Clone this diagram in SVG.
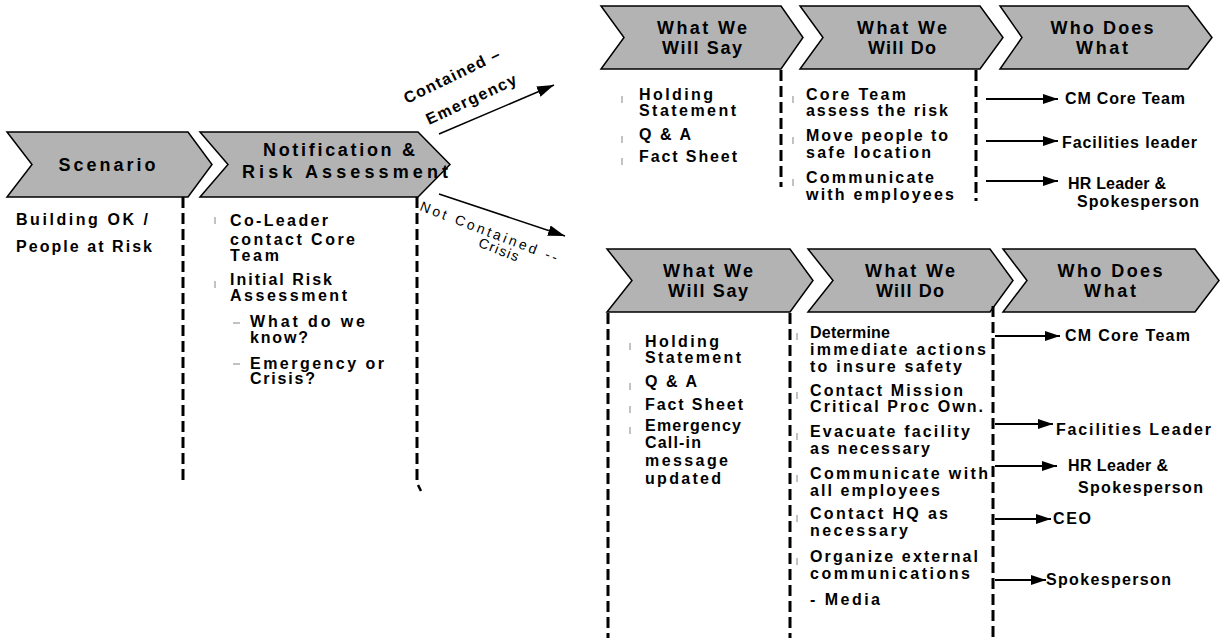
<svg xmlns="http://www.w3.org/2000/svg" width="1225" height="638" viewBox="0 0 1225 638">
<style>
.chev{fill:#b3b3b3;stroke:#000;stroke-width:1.5;stroke-linejoin:miter}
.t{font-family:"Liberation Sans",Arial,sans-serif;font-weight:bold;font-size:16px;fill:#000}
.h{font-family:"Liberation Sans",Arial,sans-serif;font-weight:bold;font-size:18px;fill:#000;text-anchor:middle}
.lab{font-family:"Liberation Sans",Arial,sans-serif;font-size:14px;fill:#000}
.dash{stroke:#000;stroke-width:3;stroke-dasharray:11 5;fill:none}
.bul{stroke:#9a9a9a;stroke-width:1.2}
.arr{stroke:#000;stroke-width:2;fill:none;marker-end:url(#ah)}
.arrb{stroke:#000;stroke-width:1.6;fill:none;marker-end:url(#ahb)}
</style>
<defs>
<marker id="ah" markerUnits="userSpaceOnUse" markerWidth="16" markerHeight="12" refX="15" refY="6" orient="auto"><path d="M0,1 L15,6 L0,11 Z" fill="#000"/></marker>
<marker id="ahb" markerUnits="userSpaceOnUse" markerWidth="18" markerHeight="14" refX="17" refY="7" orient="auto"><path d="M0,1.5 L17,7 L0,12.5 Z" fill="#000"/></marker>
</defs>
<rect width="1225" height="638" fill="#fff"/>

<g id="scenario">
<polygon class="chev" points="7,132 188,132 212,164.5 188,197 7,197 32,164.5"/>
<text class="h" x="107" y="171" font-size="19" textLength="97">Scenario</text>
<text class="t" x="16" y="225" textLength="132">Building OK /</text>
<text class="t" x="16" y="252" textLength="136">People at Risk</text>
</g>

<g id="notification">
<polygon class="chev" points="200,132 418,132 450,164.5 418,197 200,197 228,164.5"/>
<text class="h" x="339" y="156" textLength="152">Notification &amp;</text>
<text class="h" x="345" y="178" textLength="206">Risk Assessment</text>
<line class="bul" x1="215" y1="217" x2="215" y2="224"/>
<text class="t" x="230" y="226" textLength="98">Co-Leader</text>
<text class="t" x="230" y="245" textLength="125">contact Core</text>
<text class="t" x="230" y="261" textLength="49">Team</text>
<line class="bul" x1="215" y1="281" x2="215" y2="288"/>
<text class="t" x="230" y="285" textLength="102">Initial Risk</text>
<text class="t" x="230" y="301" textLength="117">Assessment</text>
<line class="bul" x1="233" y1="323" x2="240" y2="323"/>
<text class="t" x="250" y="327" textLength="115">What do we</text>
<text class="t" x="250" y="343" textLength="58">know?</text>
<line class="bul" x1="233" y1="364" x2="240" y2="364"/>
<text class="t" x="250" y="369" textLength="134">Emergency or</text>
<text class="t" x="250" y="384" textLength="65">Crisis?</text>
</g>

<g id="top-say">
<polygon class="chev" points="601,6 781,6 803,37.5 781,69 601,69 624,37.5"/>
<text class="h" x="702" y="34" textLength="90">What We</text>
<text class="h" x="702" y="54" textLength="80">Will Say</text>
<line class="bul" x1="622" y1="96" x2="622" y2="103"/>
<text class="t" x="639" y="100" textLength="74">Holding</text>
<text class="t" x="639" y="116" textLength="97">Statement</text>
<line class="bul" x1="622" y1="136" x2="622" y2="143"/>
<text class="t" x="639" y="140" textLength="52">Q &amp; A</text>
<line class="bul" x1="622" y1="158" x2="622" y2="165"/>
<text class="t" x="639" y="162" textLength="98">Fact Sheet</text>
</g>

<g id="top-do">
<polygon class="chev" points="800,6 980,6 1003,37.5 980,69 800,69 823,37.5"/>
<text class="h" x="902" y="34" textLength="90">What We</text>
<text class="h" x="902" y="54" textLength="68">Will Do</text>
<line class="bul" x1="793" y1="96" x2="793" y2="103"/>
<text class="t" x="806" y="100" textLength="100">Core Team</text>
<text class="t" x="806" y="116" textLength="142">assess the risk</text>
<line class="bul" x1="793" y1="137" x2="793" y2="144"/>
<text class="t" x="806" y="141" textLength="142">Move people to</text>
<text class="t" x="806" y="158" textLength="125">safe location</text>
<line class="bul" x1="793" y1="179" x2="793" y2="186"/>
<text class="t" x="806" y="183" textLength="128">Communicate</text>
<text class="t" x="806" y="200" textLength="148">with employees</text>
</g>

<g id="top-who">
<polygon class="chev" points="1000,6 1188,6 1212,37.5 1188,69 1000,69 1022,37.5"/>
<text class="h" x="1102" y="34" textLength="103">Who Does</text>
<text class="h" x="1102" y="54" textLength="52">What</text>
<text class="t" x="1065" y="104" textLength="120">CM Core Team</text>
<text class="t" x="1062" y="148" textLength="135">Facilities leader</text>
<text class="t" x="1068" y="189" textLength="98">HR Leader &amp;</text>
<text class="t" x="1077" y="207" textLength="122">Spokesperson</text>
</g>

<g id="bottom-say">
<polygon class="chev" points="607,249 790,249 813,280.5 790,312 607,312 632,280.5"/>
<text class="h" x="708" y="277" textLength="90">What We</text>
<text class="h" x="708" y="297" textLength="80">Will Say</text>
<line class="bul" x1="630" y1="343" x2="630" y2="350"/>
<text class="t" x="645" y="347" textLength="74">Holding</text>
<text class="t" x="645" y="363" textLength="96">Statement</text>
<line class="bul" x1="630" y1="383" x2="630" y2="390"/>
<text class="t" x="645" y="387" textLength="52">Q &amp; A</text>
<line class="bul" x1="630" y1="406" x2="630" y2="413"/>
<text class="t" x="645" y="410" textLength="98">Fact Sheet</text>
<line class="bul" x1="630" y1="427" x2="630" y2="434"/>
<text class="t" x="645" y="431" textLength="96">Emergency</text>
<text class="t" x="645" y="448" textLength="56">Call-in</text>
<text class="t" x="645" y="466" textLength="83">message</text>
<text class="t" x="645" y="484" textLength="76">updated</text>
</g>

<g id="bottom-do">
<polygon class="chev" points="808,249 990,249 1013,280.5 990,312 808,312 833,280.5"/>
<text class="h" x="910" y="277" textLength="90">What We</text>
<text class="h" x="910" y="297" textLength="68">Will Do</text>
<line class="bul" x1="797" y1="333" x2="797" y2="340"/>
<text class="t" x="810" y="338" textLength="80">Determine</text>
<text class="t" x="810" y="355" textLength="176">immediate actions</text>
<text class="t" x="810" y="372" textLength="152">to insure safety</text>
<line class="bul" x1="797" y1="392" x2="797" y2="399"/>
<text class="t" x="810" y="396" textLength="153">Contact Mission</text>
<text class="t" x="810" y="412" textLength="173">Critical Proc Own.</text>
<line class="bul" x1="797" y1="433" x2="797" y2="440"/>
<text class="t" x="810" y="437" textLength="160">Evacuate facility</text>
<text class="t" x="810" y="454" textLength="120">as necessary</text>
<line class="bul" x1="797" y1="475" x2="797" y2="482"/>
<text class="t" x="810" y="479" textLength="178">Communicate with</text>
<text class="t" x="810" y="496" textLength="130">all employees</text>
<line class="bul" x1="797" y1="515" x2="797" y2="522"/>
<text class="t" x="810" y="519" textLength="138">Contact HQ as</text>
<text class="t" x="810" y="536" textLength="98">necessary</text>
<line class="bul" x1="797" y1="558" x2="797" y2="565"/>
<text class="t" x="810" y="562" textLength="168">Organize external</text>
<text class="t" x="810" y="579" textLength="160">communications</text>
<text class="t" x="810" y="605" textLength="70">- Media</text>
</g>

<g id="bottom-who">
<polygon class="chev" points="1003,249 1195,249 1219,280.5 1195,312 1003,312 1027,280.5"/>
<text class="h" x="1110" y="277" textLength="105">Who Does</text>
<text class="h" x="1110" y="297" textLength="52">What</text>
<text class="t" x="1065" y="341" textLength="125">CM Core Team</text>
<text class="t" x="1056" y="435" textLength="155">Facilities Leader</text>
<text class="t" x="1068" y="471" textLength="100">HR Leader &amp;</text>
<text class="t" x="1078" y="493" textLength="125">Spokesperson</text>
<text class="t" x="1053" y="524" textLength="38">CEO</text>
<text class="t" x="1046" y="585" textLength="125">Spokesperson</text>
</g>

<g id="branch-labels">
<text class="t" font-size="14" transform="translate(407,104) rotate(-26)" textLength="105">Contained –</text>
<text class="t" font-size="14" transform="translate(429,125) rotate(-25)" textLength="98">Emergency</text>
<text class="lab" transform="translate(419,210) rotate(21)" textLength="146">Not Contained --</text>
<text class="lab" text-anchor="middle" transform="translate(497,254) rotate(21)" textLength="42">Crisis</text>
</g>

<g id="connectors">
<line class="dash" x1="183" y1="197" x2="183" y2="485"/>
<line class="dash" x1="417" y1="197" x2="417" y2="481"/>
<line x1="418" y1="485" x2="421" y2="491" stroke="#000" stroke-width="2.5"/>
<line class="dash" x1="781" y1="70" x2="781" y2="187"/>
<line class="dash" x1="976" y1="70" x2="976" y2="201"/>
<line class="dash" x1="608" y1="313" x2="608" y2="638"/>
<line class="dash" x1="790" y1="313" x2="790" y2="638"/>
<line class="dash" x1="993" y1="306" x2="993" y2="638"/>
<line class="arrb" x1="439" y1="134" x2="554" y2="85"/>
<line class="arrb" x1="439" y1="194" x2="565" y2="236"/>
<line class="arr" x1="986" y1="99" x2="1058" y2="99"/>
<line class="arr" x1="986" y1="141" x2="1058" y2="141"/>
<line class="arr" x1="986" y1="181" x2="1058" y2="181"/>
<line class="arr" x1="995" y1="336" x2="1060" y2="336"/>
<line class="arr" x1="995" y1="424" x2="1053" y2="424"/>
<line class="arr" x1="995" y1="466" x2="1057" y2="466"/>
<line class="arr" x1="995" y1="519" x2="1051" y2="519"/>
<line class="arr" x1="995" y1="580" x2="1046" y2="580"/>
</g>
</svg>
